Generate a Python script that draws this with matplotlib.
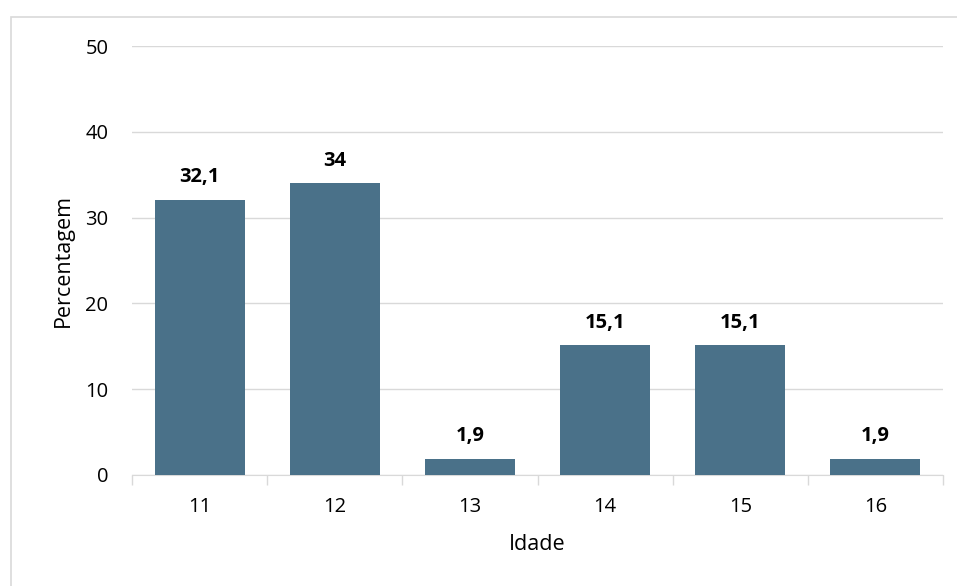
import matplotlib.pyplot as plt
from matplotlib.patches import Rectangle
import numpy as np

plt.rcParams['font.family'] = ['Open Sans', 'DejaVu Sans']

idades = ['11', '12', '13', '14', '15', '16']
percentagem = [32.1, 34, 1.9, 15.1, 15.1, 1.9]
rotulos = ['32,1', '34', '1,9', '15,1', '15,1', '1,9']

fig = plt.figure(figsize=(9.57, 5.86), dpi=100)
# moldura cinza clara do gráfico (cortada à direita e em baixo)
fig.patches.append(Rectangle((11/957, -0.1), 1.2, 1.1 - 17/586, transform=fig.transFigure,
                             fill=False, edgecolor='#D9D9D9', linewidth=1.2))

ax = fig.add_axes([132/957, 1 - 475/586, 811/957, 429/586])
x = np.arange(len(idades))
ax.bar(x, percentagem, width=0.667, color='#4A7189', zorder=3)

for xi, v, r in zip(x, percentagem, rotulos):
    ax.annotate(r, (xi, v), xytext=(0, 9), textcoords='offset points',
                ha='center', va='bottom', fontsize=14.5, fontweight='bold')

ax.set_xlim(-0.5, len(idades) - 0.5)
ax.set_ylim(0, 50)
ax.set_yticks(range(0, 51, 10))
ax.grid(axis='y', color='#D9D9D9', linewidth=1, zorder=0)

ax.set_xticks(x)
ax.set_xticklabels(idades)
ax.set_xticks(np.arange(-0.5, len(idades), 1), minor=True)
ax.tick_params(axis='x', which='major', length=0, pad=16, labelsize=14.5)
ax.tick_params(axis='x', which='minor', length=7, color='#D9D9D9', width=1)
ax.tick_params(axis='y', length=0, pad=17, labelsize=14.5)

for s in ['top', 'right', 'left']:
    ax.spines[s].set_visible(False)
ax.spines['bottom'].set_color('#D9D9D9')

ax.set_xlabel('Idade', fontsize=15.5, labelpad=12)
ax.set_ylabel('Percentagem', fontsize=15.5, labelpad=8)

fig.savefig('out.png', dpi=100)
